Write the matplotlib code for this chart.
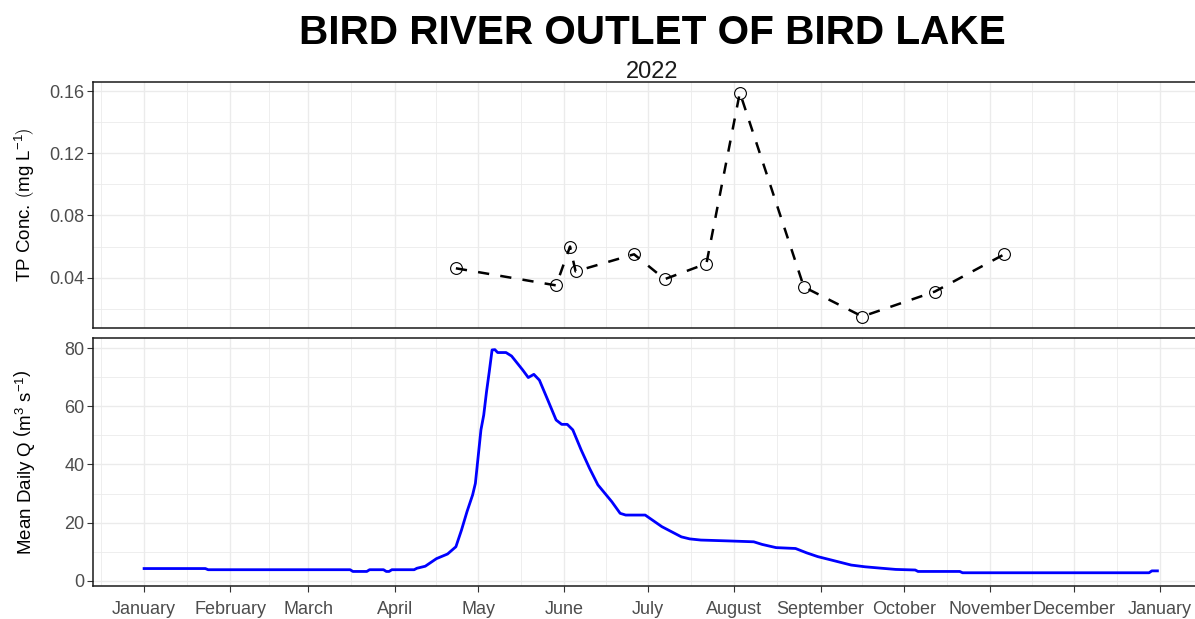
import numpy as np
import pandas as pd
import matplotlib
matplotlib.use("Agg")
import matplotlib.pyplot as plt
import matplotlib.dates as mdates

plt.rcParams['font.family'] = ['Liberation Sans', 'DejaVu Sans']
plt.rcParams['mathtext.fontset'] = 'custom'
plt.rcParams['mathtext.rm'] = 'Liberation Sans'
plt.rcParams['mathtext.it'] = 'Liberation Sans:italic'

title = "BIRD RIVER OUTLET OF BIRD LAKE"
subtitle = "2022"

# TP grab samples
tp_dates = ["2022-04-23", "2022-05-29", "2022-06-03", "2022-06-05", "2022-06-26", "2022-07-07",
            "2022-07-22", "2022-08-03", "2022-08-26", "2022-09-16", "2022-10-12", "2022-11-06"]
tp_conc = [0.046, 0.035, 0.060, 0.044, 0.055, 0.039, 0.049, 0.159, 0.034, 0.015, 0.031, 0.055]

# mean daily discharge
q_dates = ["2022-01-01", "2022-01-23", "2022-01-24", "2022-03-16", "2022-03-17", "2022-03-22",
           "2022-03-23", "2022-03-28", "2022-03-29", "2022-03-30", "2022-03-31", "2022-04-08",
           "2022-04-09", "2022-04-12", "2022-04-16", "2022-04-20", "2022-04-23", "2022-04-25",
           "2022-04-27", "2022-04-29", "2022-04-30", "2022-05-01", "2022-05-02", "2022-05-03",
           "2022-05-04", "2022-05-05", "2022-05-06", "2022-05-07", "2022-05-08", "2022-05-11",
           "2022-05-13", "2022-05-17", "2022-05-19", "2022-05-21", "2022-05-23", "2022-05-26",
           "2022-05-29", "2022-05-31", "2022-06-02", "2022-06-04", "2022-06-07", "2022-06-10",
           "2022-06-13", "2022-06-18", "2022-06-21", "2022-06-23", "2022-06-30", "2022-07-06",
           "2022-07-13", "2022-07-16", "2022-07-20", "2022-07-30", "2022-08-08", "2022-08-11",
           "2022-08-16", "2022-08-23", "2022-08-27", "2022-08-31", "2022-09-05", "2022-09-12",
           "2022-09-17", "2022-09-23", "2022-09-28", "2022-10-05", "2022-10-06", "2022-10-21",
           "2022-10-22", "2022-12-28", "2022-12-29", "2022-12-31"]
q_mean = [4.2, 4.2, 3.8, 3.8, 3.2, 3.2,
          3.8, 3.8, 3.2, 3.2, 3.8, 3.8,
          4.3, 5.0, 7.6, 9.2, 11.7, 17.4,
          23.8, 29.5, 33.5, 42.7, 51.9, 57.0,
          65.0, 72.0, 79.4, 79.5, 78.5, 78.5,
          77.3, 72.5, 69.9, 71.0, 69.0, 62.2,
          55.3, 53.8, 53.8, 51.9, 45.0, 38.7,
          33.0, 27.2, 23.2, 22.6, 22.6, 18.6,
          15.1, 14.4, 14.0, 13.7, 13.4, 12.5,
          11.4, 11.1, 9.6, 8.3, 7.1, 5.4,
          4.8, 4.3, 3.9, 3.7, 3.2, 3.2,
          2.75, 2.75, 3.4, 3.4]

tp_x = pd.to_datetime(tp_dates)
q_x = pd.to_datetime(q_dates)

month_starts = pd.date_range("2021-12-01", "2023-02-01", freq="MS")
major = month_starts[(month_starts >= "2022-01-01") & (month_starts <= "2023-01-01")]
minor = month_starts[:-1] + (month_starts[1:] - month_starts[:-1]) / 2

x0 = pd.Timestamp("2022-01-01") - pd.Timedelta(days=18.25)
x1 = pd.Timestamp("2023-01-01") + pd.Timedelta(days=18.25)

W, H = 1195, 619
fig = plt.figure(figsize=(W / 100, H / 100), dpi=100)

left = 93.3 / W
width = (1211 - 93.3) / W
ax1 = fig.add_axes([left, 1 - 327.7 / H, width, (327.7 - 82.3) / H])
ax2 = fig.add_axes([left, 1 - 585.7 / H, width, (585.7 - 338.3) / H])

tick_col = '#4D4D4D'
for ax in (ax1, ax2):
    ax.set_xlim(x0, x1)
    ax.set_xticks(major)
    ax.set_xticks(minor, minor=True)
    ax.grid(True, which='major', color='#EBEBEB', linewidth=1.0, zorder=0)
    ax.grid(True, which='minor', color='#EBEBEB', linewidth=0.6, zorder=0)
    ax.set_axisbelow(True)
    for s in ax.spines.values():
        s.set_color('#1A1A1A')
        s.set_linewidth(1.1)
    ax.tick_params(which='major', direction='out', length=4, width=0.8, color='#333333',
                   labelsize=13, labelcolor=tick_col, pad=2.5)
    ax.tick_params(which='minor', length=0)

# top panel: TP
ax1.plot(tp_x, tp_conc, color='black', linewidth=1.8, dashes=(4.5, 4.5), zorder=3)
ax1.plot(tp_x, tp_conc, linestyle='none', marker='o', markersize=8.5, markerfacecolor='none',
         markeredgecolor='black', markeredgewidth=0.8, zorder=4)
ax1.set_ylim(0.0078, 0.1656)
ax1.set_yticks([0.04, 0.08, 0.12, 0.16])
ax1.set_yticks([0.02, 0.06, 0.10, 0.14], minor=True)
ax1.yaxis.set_major_formatter(matplotlib.ticker.FormatStrFormatter('%.2f'))
ax1.tick_params(axis='x', which='both', length=0, labelbottom=False)
ax1.set_ylabel(r'TP Conc. $\left(\mathrm{mg\ L^{-1}}\right)$', fontsize=13.5)
ax1.yaxis.set_label_coords(-0.050, 0.5)

# bottom panel: discharge
ax2.plot(q_x, q_mean, color='#0000FF', linewidth=2.0, zorder=3)
ax2.set_ylim(-1.7, 83.4)
ax2.set_yticks([0, 20, 40, 60, 80])
ax2.set_yticks([10, 30, 50, 70], minor=True)
ax2.xaxis.set_major_formatter(mdates.DateFormatter('%B'))
ax2.tick_params(axis='x', pad=7)
ax2.set_ylabel(r'Mean Daily Q $\left(\mathrm{m^{3}\ s^{-1}}\right)$', fontsize=13.5)
ax2.yaxis.set_label_coords(-0.050, 0.5)

fig.text(652 / W, 1 - 43.5 / H, title, ha='center', va='baseline', fontsize=29.2, fontweight='bold')
fig.text(652 / W, 1 - 78.5 / H, subtitle, ha='center', va='baseline', fontsize=17, color='#1A1A1A')

fig.savefig("out.png", dpi=100)
